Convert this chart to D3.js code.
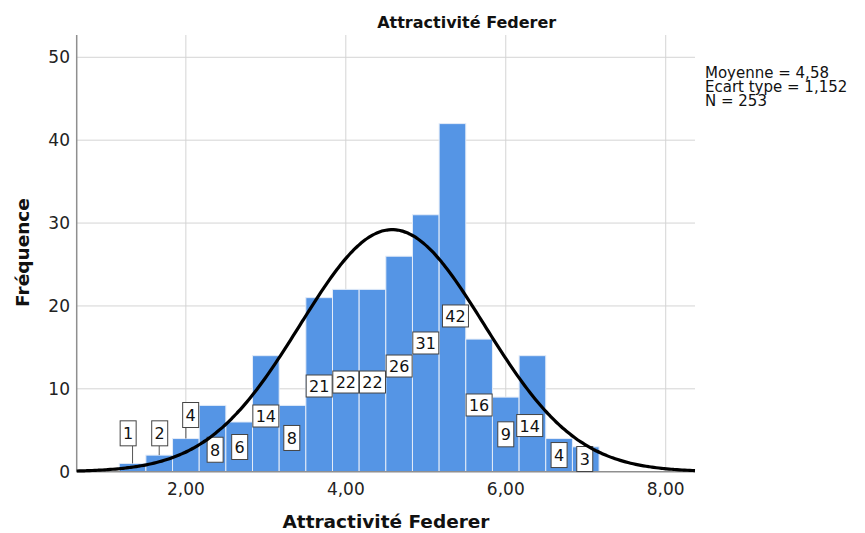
<!DOCTYPE html>
<html>
<head>
<meta charset="utf-8">
<script src="https://cdn.jsdelivr.net/npm/d3@7/dist/d3.min.js"></script>
<style>
  html, body { margin: 0; padding: 0; background: #fff; }
  svg { display: block; font-family: "DejaVu Sans", sans-serif; }
</style>
</head>
<body>
<svg id="chart" width="865" height="533"></svg>
<script>
// Histogram bins (centre of each bin, width 1/3) and their frequencies
const binCenters = [4/3, 5/3, 6/3, 7/3, 8/3, 9/3, 10/3, 11/3, 12/3, 13/3,
                    14/3, 15/3, 16/3, 17/3, 18/3, 19/3, 20/3, 21/3];
const counts = [1, 2, 4, 8, 6, 14, 8, 21, 22, 22, 26, 31, 42, 16, 9, 14, 4, 3];
const binWidth = 1 / 3;

// Where each count label box sits (in frequency units) and its horizontal nudge (px)
const labelAt = [4.63, 4.63, 6.84, 2.65, 2.98, 6.72, 4.07, 10.34, 10.82, 10.82,
                 12.75, 15.53, 18.79, 8.05, 4.51, 5.57, 2.01, 1.53];
const labelNudge = [-4.4, 0.5, 4.8, 2.6, 0.5, 0, -0.7, 0, 0, 0,
                    0, 0, 3, 0, 0, -2.7, 0, -1];

// Summary statistics of the variable
const mean = 4.58;
const stdDev = 1.152;
const nObs = 253;
const statLines = ["Moyenne = 4,58", "Ecart type = 1,152", "N = 253"];

// Axis ticks
const xTicks = [2, 4, 6, 8];
const xTickLabels = ["2,00", "4,00", "6,00", "8,00"];
const yTicks = [0, 10, 20, 30, 40, 50];

const svg = d3.select("#chart");

const plot = { left: 76.7, right: 695, top: 35, bottom: 471.7 };
const x = d3.scaleLinear().domain([0.635, 8.366]).range([plot.left, plot.right]);
const y = d3.scaleLinear().domain([0, 52.69]).range([plot.bottom, plot.top]);

// Grid
const grid = svg.append("g");
grid.selectAll("line.h").data(yTicks.filter(d => d > 0)).join("line")
  .attr("x1", plot.left).attr("x2", plot.right)
  .attr("y1", d => y(d)).attr("y2", d => y(d))
  .attr("stroke", "#d4d4d4").attr("stroke-width", 1);
grid.selectAll("line.v").data(xTicks).join("line")
  .attr("x1", d => x(d)).attr("x2", d => x(d))
  .attr("y1", plot.top).attr("y2", plot.bottom)
  .attr("stroke", "#d4d4d4").attr("stroke-width", 1);

// Bars
svg.append("g").selectAll("rect").data(counts).join("rect")
  .attr("x", (d, i) => x(binCenters[i] - binWidth / 2))
  .attr("width", (d, i) => x(binCenters[i] + binWidth / 2) - x(binCenters[i] - binWidth / 2))
  .attr("y", d => y(d))
  .attr("height", d => y(0) - y(d))
  .attr("fill", "#5595e5")
  .attr("stroke", "#e4ecf8")
  .attr("stroke-width", 1);

// Axes lines
svg.append("line")
  .attr("x1", plot.left).attr("x2", plot.left)
  .attr("y1", plot.top).attr("y2", plot.bottom)
  .attr("stroke", "#8f8f8f").attr("stroke-width", 1.5);
svg.append("line")
  .attr("x1", plot.left).attr("x2", plot.right)
  .attr("y1", plot.bottom).attr("y2", plot.bottom)
  .attr("stroke", "#8f8f8f").attr("stroke-width", 1.5);

// Count labels with boxes
const labels = svg.append("g");
counts.forEach((c, i) => {
  const bx = x(binCenters[i]);
  const cx = bx + labelNudge[i];
  const cy = y(labelAt[i]);
  const txt = String(c);
  const w = txt.length > 1 ? 26 : 16;
  const h = txt.length > 1 ? 22 : 25;
  if (cy + h / 2 < y(c)) {
    const lx = Math.max(cx - w / 2 + 2, Math.min(cx + w / 2 - 2, bx));
    labels.append("line")
      .attr("x1", lx).attr("x2", lx)
      .attr("y1", cy + h / 2).attr("y2", y(c))
      .attr("stroke", "#555").attr("stroke-width", 1);
  }
  labels.append("rect")
    .attr("x", cx - w / 2).attr("y", cy - h / 2)
    .attr("width", w).attr("height", h)
    .attr("fill", "#fff").attr("stroke", "#444").attr("stroke-width", 1);
  labels.append("text")
    .attr("x", cx).attr("y", cy + 0.5)
    .attr("text-anchor", "middle").attr("dominant-baseline", "central")
    .attr("font-size", 16).attr("fill", "#111")
    .text(txt);
});

// Fitted normal curve
const normal = v => nObs * binWidth * Math.exp(-0.5 * ((v - mean) / stdDev) ** 2) / (stdDev * Math.sqrt(2 * Math.PI));
const curveX = d3.range(0, 241).map(k => x.domain()[0] + (x.domain()[1] - x.domain()[0]) * k / 240);
svg.append("path")
  .datum(curveX)
  .attr("d", d3.line().x(v => x(v)).y(v => y(normal(v))).curve(d3.curveBasis))
  .attr("fill", "none").attr("stroke", "#000").attr("stroke-width", 3.2);

// Tick labels
svg.append("g").selectAll("text").data(yTicks).join("text")
  .attr("x", 70).attr("y", d => y(d))
  .attr("text-anchor", "end").attr("dominant-baseline", "central")
  .attr("font-size", 17).attr("fill", "#222")
  .text(d => d);
svg.append("g").selectAll("text").data(xTicks).join("text")
  .attr("x", d => x(d)).attr("y", 495)
  .attr("text-anchor", "middle")
  .attr("font-size", 17).attr("fill", "#222")
  .text((d, i) => xTickLabels[i]);

// Titles
svg.append("text")
  .attr("x", 466.7).attr("y", 27.5)
  .attr("text-anchor", "middle")
  .attr("font-size", 16).attr("font-weight", "bold").attr("fill", "#111")
  .text("Attractivité Federer");
svg.append("text")
  .attr("x", 386).attr("y", 528)
  .attr("text-anchor", "middle")
  .attr("font-size", 18.5).attr("font-weight", "bold").attr("fill", "#111")
  .text("Attractivité Federer");
svg.append("text")
  .attr("transform", "translate(29,252.5) rotate(-90)")
  .attr("text-anchor", "middle")
  .attr("font-size", 18.5).attr("font-weight", "bold").attr("fill", "#111")
  .text("Fréquence");

// Statistics block
svg.append("g").selectAll("text").data(statLines).join("text")
  .attr("x", 705).attr("y", (d, i) => 78 + i * 14)
  .attr("font-size", 15).attr("fill", "#111")
  .text(d => d);
</script>
</body>
</html>
